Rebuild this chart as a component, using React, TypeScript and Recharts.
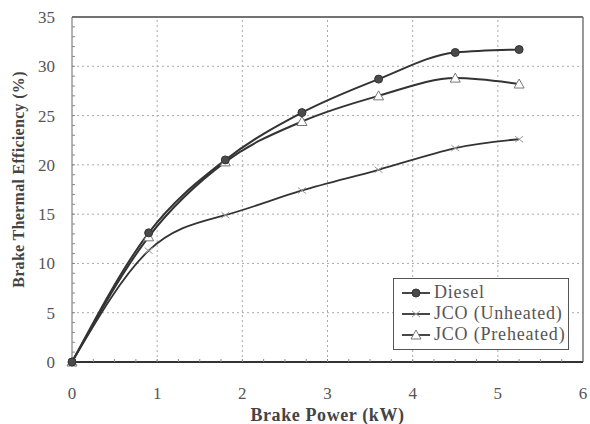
import React from 'react'
import { LineChart, Line, XAxis, YAxis, ReferenceLine } from 'recharts'

const power = [0, 0.9, 1.8, 2.7, 3.6, 4.5, 5.25]
const diesel = [0, 13.1, 20.5, 25.3, 28.7, 31.4, 31.7]
const jcoUnheated = [0, 11.3, 14.9, 17.4, 19.5, 21.7, 22.6]
const jcoPreheated = [0, 12.7, 20.3, 24.4, 27.0, 28.8, 28.2]

const xMajor = [0, 1, 2, 3, 4, 5, 6]
const yMajor = [0, 5, 10, 15, 20, 25, 30, 35]
const xMinor = Array.from({ length: 25 }, (_, i) => i * 0.25)
const yMinor = Array.from({ length: 36 }, (_, i) => i)

const data = power.map((p, i) => ({
  power: p,
  diesel: diesel[i],
  unheated: jcoUnheated[i],
  preheated: jcoPreheated[i],
}))

const FONT = '"Liberation Serif", "Times New Roman", "DejaVu Serif", serif'
const INK = '#333'
const TEXT = '#555'

function XTick({ x, y, payload }: any) {
  const v = payload.value
  const major = Math.abs(v - Math.round(v)) < 1e-6
  return (
    <g>
      {v > 0 && v < 6 && <line x1={x} y1={y} x2={x} y2={y - 3} stroke="#888" strokeWidth={1} />}
      {major && (
        <text x={x} y={y + 37} textAnchor="middle" fontSize={17} fill={TEXT} fontFamily={FONT}>
          {v}
        </text>
      )}
    </g>
  )
}

function YTick({ x, y, payload }: any) {
  const v = payload.value
  const major = v % 5 === 0
  return (
    <g>
      {v > 0 && v < 35 && <line x1={x} y1={y} x2={x + 3} y2={y} stroke="#888" strokeWidth={1} />}
      {major && (
        <text x={x - 17} y={y + 6} textAnchor="end" fontSize={17} fill={TEXT} fontFamily={FONT}>
          {v}
        </text>
      )}
    </g>
  )
}

function YTitle({ viewBox }: any) {
  const x = viewBox.x + 24
  const y = viewBox.y + viewBox.height / 2 - 10
  return (
    <text
      x={x}
      y={y}
      transform={`rotate(-90, ${x}, ${y})`}
      textAnchor="middle"
      fontFamily={FONT}
      fontSize={16}
      fontWeight="bold"
      fill="#444"
      letterSpacing={0.3}
    >
      Brake Thermal Efficiency (%)
    </text>
  )
}

function CircleDot({ cx, cy }: any) {
  return <circle cx={cx} cy={cy} r={4} fill="#4a4a4a" stroke="#333" strokeWidth={1} />
}

function TriangleDot({ cx, cy }: any) {
  return (
    <path
      d={`M${cx},${cy - 5} L${cx + 5},${cy + 4} L${cx - 5},${cy + 4} Z`}
      fill="#fff"
      stroke="#777"
      strokeWidth={1}
    />
  )
}

function CrossDot({ cx, cy }: any) {
  return (
    <g stroke="#999" strokeWidth={1}>
      <line x1={cx - 4} y1={cy - 3} x2={cx + 4} y2={cy + 3} />
      <line x1={cx - 4} y1={cy + 3} x2={cx + 4} y2={cy - 3} />
    </g>
  )
}

const legendItems = [
  { label: 'Diesel', Dot: CircleDot },
  { label: 'JCO (Unheated)', Dot: CrossDot },
  { label: 'JCO (Preheated)', Dot: TriangleDot },
]

function LegendBox() {
  return (
    <div
      style={{
        position: 'absolute',
        left: 393,
        top: 278,
        width: 176,
        height: 72,
        border: '1px solid #555',
        background: '#fff',
        boxSizing: 'border-box',
        padding: '3px 0 0 7px',
        fontFamily: FONT,
        fontSize: 18,
        letterSpacing: 0.8,
        color: TEXT,
        lineHeight: '21px',
      }}
    >
      {legendItems.map(({ label, Dot }) => (
        <div key={label} style={{ display: 'flex', alignItems: 'center' }}>
          <svg width={30} height={14} style={{ marginRight: 3 }}>
            <line x1={1} y1={7} x2={29} y2={7} stroke={INK} strokeWidth={1.8} />
            <Dot cx={15} cy={7} />
          </svg>
          <span>{label}</span>
        </div>
      ))}
    </div>
  )
}

export default function App() {
  return (
    <div style={{ position: 'absolute', left: 0, top: 0, width: 590, height: 424, background: '#fff' }}>
      <LineChart width={590} height={424} data={data} margin={{ top: 17, right: 7, left: 0, bottom: 0 }}>
        <XAxis
          dataKey="power"
          type="number"
          domain={[0, 6]}
          ticks={xMinor}
          interval={0}
          height={62}
          tickSize={0}
          tickMargin={0}
          tickLine={false}
          axisLine={{ stroke: INK, strokeWidth: 2 }}
          tick={<XTick />}
          label={{
            value: 'Brake Power (kW)',
            position: 'insideBottom',
            offset: 3,
            style: { fontFamily: FONT, fontSize: 18, fontWeight: 'bold', fill: '#444', letterSpacing: 0.6 },
          }}
        />
        <YAxis
          type="number"
          domain={[0, 35]}
          ticks={yMinor}
          interval={0}
          width={72}
          tickSize={0}
          tickMargin={0}
          tickLine={false}
          axisLine={{ stroke: '#666', strokeWidth: 1 }}
          tick={<YTick />}
          label={YTitle}
        />
        {xMajor.slice(1, -1).map(v => (
          <ReferenceLine key={'x' + v} x={v} stroke="#aaa" strokeDasharray="2 3" />
        ))}
        {yMajor.slice(1, -1).map(v => (
          <ReferenceLine key={'y' + v} y={v} stroke="#aaa" strokeDasharray="2 3" />
        ))}
        <ReferenceLine y={35} stroke="#444" strokeWidth={1.5} />
        <ReferenceLine x={6} stroke="#777" strokeWidth={1.5} />
        <Line
          type="natural"
          dataKey="unheated"
          stroke={INK}
          strokeWidth={1.8}
          dot={<CrossDot />}
          isAnimationActive={false}
        />
        <Line
          type="monotone"
          dataKey="preheated"
          stroke={INK}
          strokeWidth={2}
          dot={<TriangleDot />}
          isAnimationActive={false}
        />
        <Line
          type="monotone"
          dataKey="diesel"
          stroke={INK}
          strokeWidth={2}
          dot={<CircleDot />}
          isAnimationActive={false}
        />
      </LineChart>
      <LegendBox />
    </div>
  )
}
